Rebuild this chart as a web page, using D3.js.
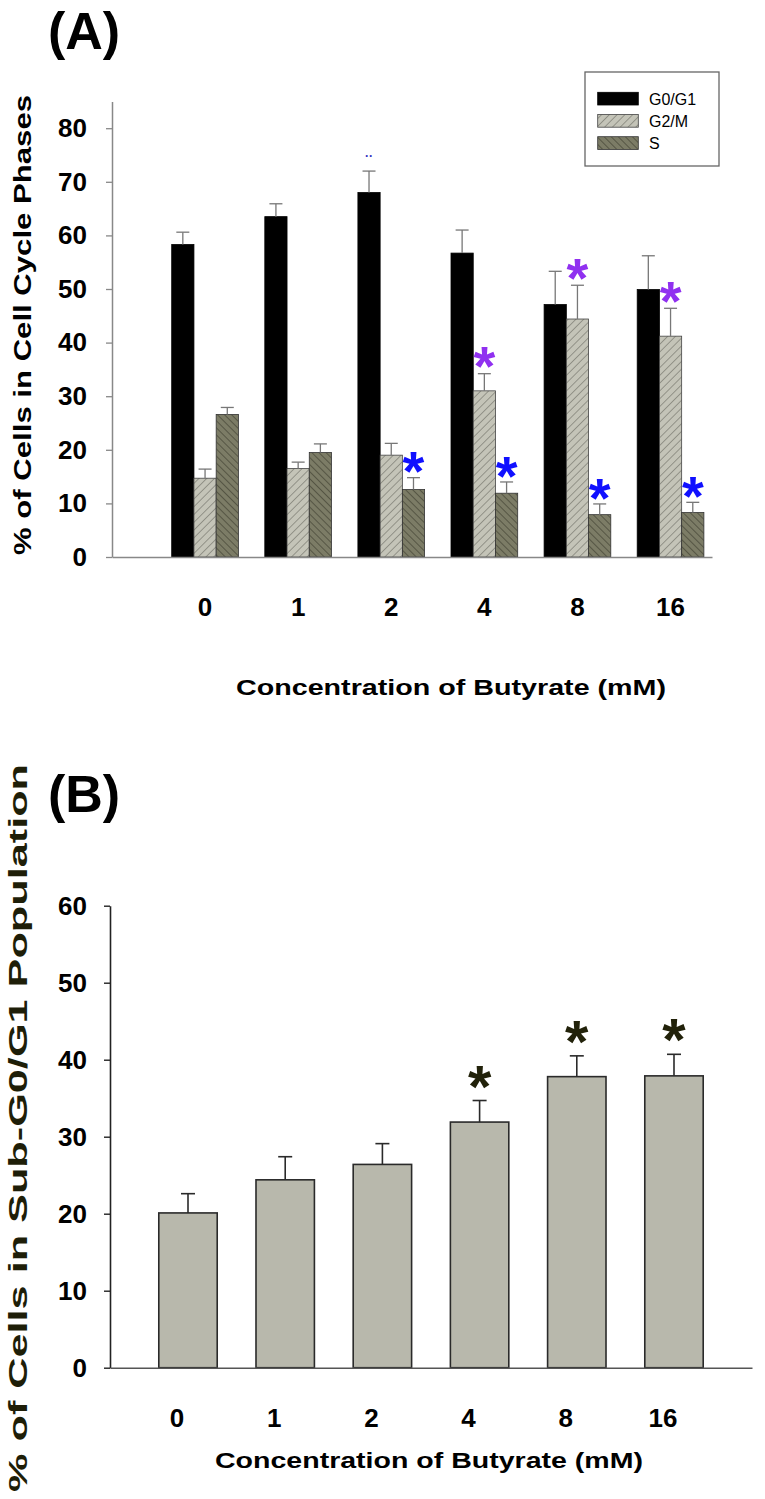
<!DOCTYPE html>
<html>
<head>
<meta charset="utf-8">
<script src="https://cdn.jsdelivr.net/npm/d3@7"></script>
<style>
  html, body { margin: 0; padding: 0; background: #fff; }
  svg { display: block; font-family: "Liberation Sans", Arial, Helvetica, sans-serif; }
</style>
</head>
<body>
<svg id="chart" width="765" height="1499"></svg>
<script>
// ---------- DATA ----------
const categories = ["0", "1", "2", "4", "8", "16"];
const phases = ["G0/G1", "G2/M", "S"];

const g0g1 = [58.3, 63.5, 68.0, 56.7, 47.1, 49.9];
const g0g1Err = [2.3, 2.4, 4.0, 4.3, 6.2, 6.3];
const g2m = [14.7, 16.5, 19.0, 31.0, 44.4, 41.2];
const g2mErr = [1.7, 1.2, 2.2, 3.2, 6.3, 5.2];
const sPhase = [26.6, 19.5, 12.6, 11.9, 7.9, 8.3];
const sPhaseErr = [1.3, 1.6, 2.2, 2.1, 2.0, 1.9];

const yTicksA = [0, 10, 20, 30, 40, 50, 60, 70, 80];

const subG1 = [20.1, 24.4, 26.4, 31.9, 37.8, 37.9];
const subG1Err = [2.5, 3.0, 2.7, 2.8, 2.7, 2.8];
const yTicksB = [0, 10, 20, 30, 40, 50, 60];

// significance markers (categories)
const sigG2M = ["4", "8", "16"];
const sigS = ["2", "4", "8", "16"];
const sigSub = ["4", "8", "16"];

const xTitle = "Concentration of Butyrate (mM)";
const yTitleA = "% of Cells in Cell Cycle Phases";
const yTitleB = "% of Cells in Sub-G0/G1 Population";

// ---------- SETUP ----------
const svg = d3.select("#chart");
const defs = svg.append("defs");

function hatch(id, bg, line, angle, spacing, sw) {
  const p = defs.append("pattern")
    .attr("id", id)
    .attr("patternUnits", "userSpaceOnUse")
    .attr("width", spacing).attr("height", spacing)
    .attr("patternTransform", `rotate(${angle})`);
  p.append("rect").attr("width", spacing).attr("height", spacing).attr("fill", bg);
  p.append("line").attr("x1", 0).attr("y1", 0).attr("x2", 0).attr("y2", spacing)
    .attr("stroke", line).attr("stroke-width", sw);
}
hatch("hatchG2M", "#c4c4b8", "#55554d", 45, 5.5, 0.9);
hatch("hatchS", "#7c7c66", "#2e2e22", -45, 5, 1);

const phaseFill = { "G0/G1": "#000", "G2/M": "url(#hatchG2M)", "S": "url(#hatchS)" };
const phaseStroke = { "G0/G1": "#000", "G2/M": "#444", "S": "#333" };

// ================= PANEL A =================
const A = { left: 112, right: 712, top: 101.4, bottom: 557 };
const xA = d3.scaleBand().domain(categories).range([A.left, A.right])
  .paddingInner(0.2836).paddingOuter(0.3642).align(0.8805);
const xA1 = d3.scaleBand().domain(phases).range([0, xA.bandwidth()]);
const yA = d3.scaleLinear().domain([0, 85]).range([A.bottom, A.top]);

const seriesA = {
  "G0/G1": { v: g0g1, e: g0g1Err },
  "G2/M": { v: g2m, e: g2mErr },
  "S": { v: sPhase, e: sPhaseErr }
};
const flatA = [];
categories.forEach((c, i) => phases.forEach(p => flatA.push({ c, p, v: seriesA[p].v[i], e: seriesA[p].e[i] })));

const gA = svg.append("g");
gA.selectAll("rect.bar").data(flatA).join("rect")
  .attr("class", "bar")
  .attr("x", d => xA(d.c) + xA1(d.p))
  .attr("y", d => yA(d.v))
  .attr("width", xA1.bandwidth())
  .attr("height", d => yA(0) - yA(d.v))
  .attr("fill", d => phaseFill[d.p])
  .attr("stroke", d => phaseStroke[d.p])
  .attr("stroke-width", 0.8);

const errA = gA.selectAll("g.err").data(flatA).join("g").attr("class", "err")
  .attr("stroke", "#777").attr("stroke-width", 1.3);
errA.append("line")
  .attr("x1", d => xA(d.c) + xA1(d.p) + xA1.bandwidth() / 2)
  .attr("x2", d => xA(d.c) + xA1(d.p) + xA1.bandwidth() / 2)
  .attr("y1", d => yA(d.v)).attr("y2", d => yA(d.v + d.e));
errA.append("line")
  .attr("x1", d => xA(d.c) + xA1(d.p) + xA1.bandwidth() / 2 - 6.5)
  .attr("x2", d => xA(d.c) + xA1(d.p) + xA1.bandwidth() / 2 + 6.5)
  .attr("y1", d => yA(d.v + d.e)).attr("y2", d => yA(d.v + d.e));

// axes A
const axA = svg.append("g").attr("transform", `translate(${A.left},0)`)
  .call(d3.axisLeft(yA).tickValues(yTicksA).tickSize(6).tickSizeOuter(0).tickPadding(19));
axA.select(".domain").attr("stroke", "#888").attr("stroke-width", 1.5);
axA.selectAll(".tick line").attr("stroke", "#888").attr("stroke-width", 1.3);
axA.selectAll(".tick text").attr("font-size", 26).attr("font-weight", "bold").attr("fill", "#000")
  .attr("font-family", "Liberation Sans, Arial, sans-serif");

const axAx = svg.append("g").attr("transform", `translate(0,${A.bottom})`)
  .call(d3.axisBottom(xA).tickSize(0).tickSizeOuter(0).tickPadding(41));
axAx.select(".domain").attr("stroke", "#888").attr("stroke-width", 1.5);
axAx.selectAll(".tick text").attr("font-size", 26).attr("font-weight", "bold").attr("fill", "#000")
  .attr("font-family", "Liberation Sans, Arial, sans-serif");

// significance A
const fsStar = 56;
svg.append("g").selectAll("text").data(sigG2M).join("text")
  .attr("x", c => xA(c) + xA1("G2/M") + xA1.bandwidth() / 2)
  .attr("y", c => { const i = categories.indexOf(c); return yA(g2m[i] + g2mErr[i]) - 19 + fsStar * 0.55; })
  .attr("text-anchor", "middle").attr("font-size", fsStar).attr("font-weight", "bold")
  .attr("fill", "#9030f0").text("*");
svg.append("g").selectAll("text").data(sigS).join("text")
  .attr("x", c => xA(c) + xA1("S") + xA1.bandwidth() / 2)
  .attr("y", c => { const i = categories.indexOf(c); return yA(sPhase[i] + sPhaseErr[i]) - 18 + fsStar * 0.55; })
  .attr("text-anchor", "middle").attr("font-size", fsStar).attr("font-weight", "bold")
  .attr("fill", "#1010ff").text("*");
// faint remnant marker above G0/G1 at 2 mM
svg.append("text")
  .attr("x", xA("2") + xA1("G0/G1") + xA1.bandwidth() / 2)
  .attr("y", yA(g0g1[2] + g0g1Err[2]) - 11)
  .attr("text-anchor", "middle").attr("font-size", 12).attr("font-weight", "bold")
  .attr("fill", "#3030c0").text("··");

// legend
const leg = svg.append("g");
leg.append("rect").attr("x", 585).attr("y", 72).attr("width", 134).attr("height", 94)
  .attr("fill", "#fff").attr("stroke", "#666").attr("stroke-width", 1.3);
phases.forEach((p, i) => {
  const yy = 92.3 + i * 22.2;
  leg.append("rect").attr("x", 597.7).attr("y", yy).attr("width", 40.6).attr("height", 12.7)
    .attr("fill", phaseFill[p]).attr("stroke", phaseStroke[p]).attr("stroke-width", 0.8);
  leg.append("text").attr("x", 649).attr("y", yy + 12.5).attr("font-size", 16)
    .attr("fill", "#000").text(p);
});

// titles A
svg.append("text").attr("x", 48).attr("y", 49).attr("font-size", 52).attr("font-weight", "bold").text("(A)");
svg.append("text").attr("x", 451).attr("y", 695).attr("text-anchor", "middle")
  .attr("font-size", 22).attr("font-weight", "bold")
  .attr("textLength", 430).attr("lengthAdjust", "spacingAndGlyphs").text(xTitle);
svg.append("text").attr("transform", "translate(31,325) rotate(-90)").attr("text-anchor", "middle")
  .attr("font-size", 23).attr("font-weight", "bold")
  .attr("textLength", 460).attr("lengthAdjust", "spacingAndGlyphs").text(yTitleA);

// ================= PANEL B =================
const B = { left: 110, right: 752, top: 905.7, bottom: 1367.7 };
const xB = d3.scaleBand().domain(categories).range([B.left, B.right])
  .paddingInner(0.399).paddingOuter(0.502).align(0.5);
const yB = d3.scaleLinear().domain([0, 60]).range([B.bottom, B.top]);

const flatB = categories.map((c, i) => ({ c, v: subG1[i], e: subG1Err[i] }));
const gB = svg.append("g");
gB.selectAll("rect").data(flatB).join("rect")
  .attr("x", d => xB(d.c)).attr("y", d => yB(d.v))
  .attr("width", xB.bandwidth()).attr("height", d => yB(0) - yB(d.v))
  .attr("fill", "#b8b8ac").attr("stroke", "#2a2a2a").attr("stroke-width", 1.6);
const errB = gB.selectAll("g.err").data(flatB).join("g").attr("class", "err")
  .attr("stroke", "#2a2a2a").attr("stroke-width", 1.6);
errB.append("line")
  .attr("x1", d => xB(d.c) + xB.bandwidth() / 2).attr("x2", d => xB(d.c) + xB.bandwidth() / 2)
  .attr("y1", d => yB(d.v)).attr("y2", d => yB(d.v + d.e));
errB.append("line")
  .attr("x1", d => xB(d.c) + xB.bandwidth() / 2 - 7).attr("x2", d => xB(d.c) + xB.bandwidth() / 2 + 7)
  .attr("y1", d => yB(d.v + d.e)).attr("y2", d => yB(d.v + d.e));

const axB = svg.append("g").attr("transform", `translate(${B.left},0)`)
  .call(d3.axisLeft(yB).tickValues(yTicksB).tickSize(6).tickSizeOuter(0).tickPadding(17));
axB.select(".domain").attr("stroke", "#222").attr("stroke-width", 1.6);
axB.selectAll(".tick line").attr("stroke", "#222").attr("stroke-width", 1.4);
axB.selectAll(".tick text").attr("font-size", 26).attr("font-weight", "bold").attr("fill", "#000")
  .attr("font-family", "Liberation Sans, Arial, sans-serif");

const axBx = svg.append("g").attr("transform", `translate(0,${B.bottom})`)
  .call(d3.axisBottom(xB).tickSize(0).tickSizeOuter(0).tickPadding(41));
axBx.select(".domain").attr("stroke", "#555").attr("stroke-width", 1.5);
axBx.selectAll(".tick text").attr("font-size", 26).attr("font-weight", "bold").attr("fill", "#000")
  .attr("dx", -11).attr("font-family", "Liberation Sans, Arial, sans-serif");

const fsStarB = 60;
svg.append("g").selectAll("text").data(sigSub).join("text")
  .attr("x", c => xB(c) + xB.bandwidth() / 2)
  .attr("y", c => { const i = categories.indexOf(c); return yB(subG1[i] + subG1Err[i]) - 27 + fsStarB * 0.55; })
  .attr("text-anchor", "middle").attr("font-size", fsStarB).attr("font-weight", "bold")
  .attr("fill", "#22220a").text("*");

svg.append("text").attr("x", 48).attr("y", 812).attr("font-size", 52).attr("font-weight", "bold").text("(B)");
svg.append("text").attr("x", 429).attr("y", 1468).attr("text-anchor", "middle")
  .attr("font-size", 22).attr("font-weight", "bold")
  .attr("textLength", 428).attr("lengthAdjust", "spacingAndGlyphs").text(xTitle);
svg.append("text").attr("transform", "translate(27,1128) rotate(-90)").attr("text-anchor", "middle")
  .attr("font-size", 25).attr("font-weight", "bold").attr("fill", "#1e1e08")
  .attr("textLength", 728).attr("lengthAdjust", "spacingAndGlyphs").text(yTitleB);
</script>
</body>
</html>
